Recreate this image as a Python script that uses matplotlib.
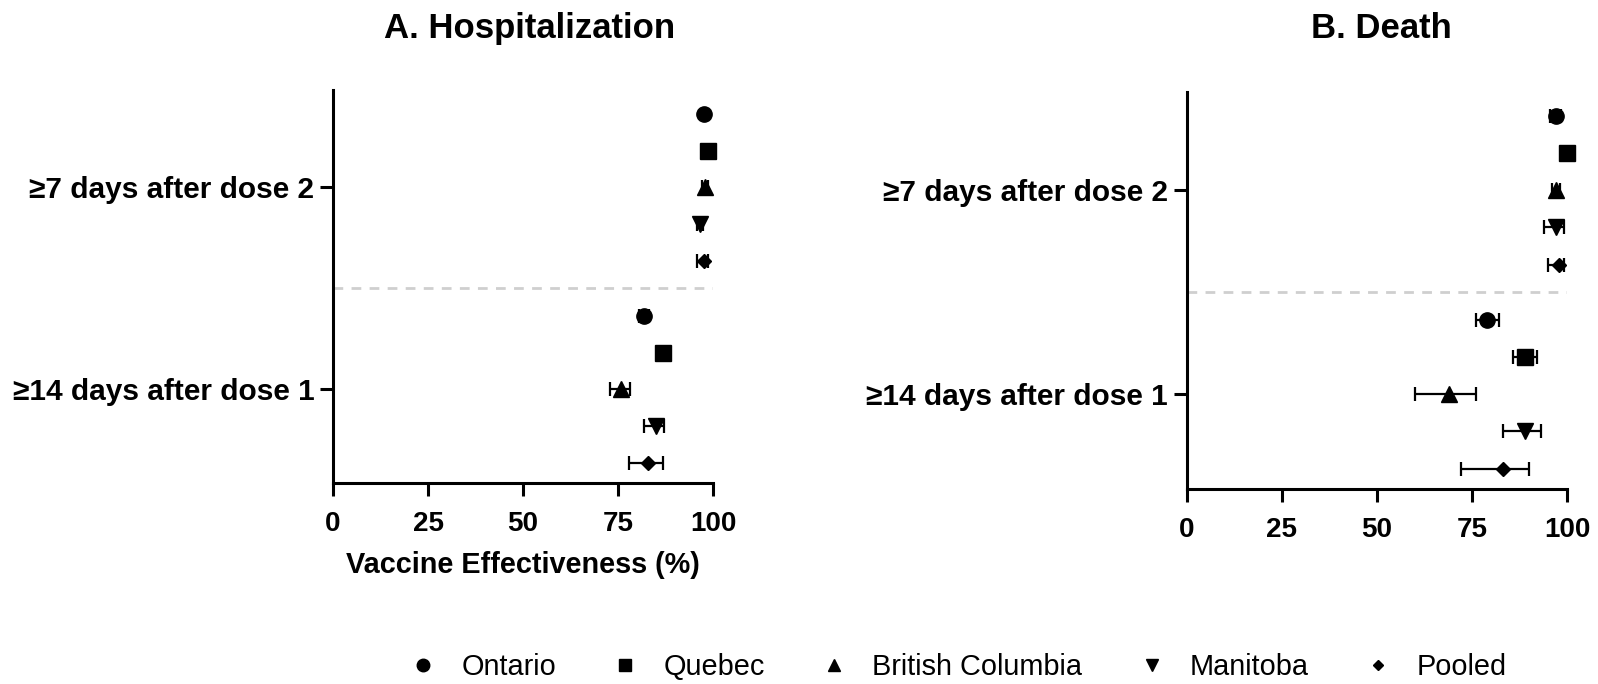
import matplotlib
matplotlib.use("Agg")
import matplotlib.pyplot as plt
from matplotlib.lines import Line2D

plt.rcParams["font.family"] = ["Liberation Sans", "DejaVu Sans"]

provinces = ["Ontario", "Quebec", "British Columbia", "Manitoba", "Pooled"]
markers = ["o", "s", "^", "v", "D"]
groups = ["\u226514 days after dose 1", "\u22657 days after dose 2"]

# Hospitalization VE (%) with 95% CI, order follows `provinces`
hosp_d2 = [97.6, 98.7, 97.9, 96.7, 97.5]
hosp_d2_lo = [97.0, 98.2, 97.0, 95.9, 95.8]
hosp_d2_hi = [98.2, 99.1, 98.6, 97.4, 98.6]
hosp_d1 = [81.9, 86.9, 75.8, 85.0, 82.8]
hosp_d1_lo = [80.6, 85.8, 72.9, 81.8, 77.9]
hosp_d1_hi = [83.2, 88.0, 78.1, 87.2, 86.9]

# Death VE (%) with 95% CI
death_d2 = [97.1, 100.0, 97.0, 97.0, 98.0]
death_d2_lo = [95.5, 100.0, 96.0, 94.0, 95.0]
death_d2_hi = [98.3, 100.0, 98.2, 99.2, 99.2]
death_d1 = [79.0, 89.0, 69.0, 89.0, 83.2]
death_d1_lo = [76.0, 85.9, 60.0, 83.1, 72.1]
death_d1_hi = [82.1, 92.1, 76.0, 93.2, 90.0]

group_pos = [0.0, 5.5]
row_offset = [2, 1, 0, -1, -2]

fig = plt.figure(figsize=(15.98, 6.84), dpi=100)
axA = fig.add_axes([0.2084, 0.2939, 0.2378, 0.5745])
axB = fig.add_axes([0.7428, 0.2851, 0.2378, 0.5804])


def draw(ax, d1, d1lo, d1hi, d2, d2lo, d2hi):
    for gi, (v, lo, hi) in enumerate([(d1, d1lo, d1hi), (d2, d2lo, d2hi)]):
        for i in range(len(provinces)):
            y = group_pos[gi] + row_offset[i]
            ax.errorbar([v[i]], [y], xerr=[[v[i] - lo[i]], [hi[i] - v[i]]],
                        fmt=markers[i], color="black", ms=7.6 if markers[i] == "D" else 11,
                        elinewidth=1.6, capsize=5, capthick=1.6, clip_on=False, zorder=3)
    ax.plot([0, 100], [2.75, 2.75], ls=(0, (3.5, 3)), color="#cfcfcf", lw=2, zorder=1)
    ax.set_xlim(0, 100)
    ax.set_ylim(-2.55, 8.15)
    ax.set_xticks([0, 25, 50, 75, 100])
    ax.set_yticks(group_pos, groups)
    for s in ["top", "right"]:
        ax.spines[s].set_visible(False)
    for s in ["left", "bottom"]:
        ax.spines[s].set_linewidth(2.2)
    ax.tick_params(width=2.2, length=9.5)
    ax.tick_params(axis="x", pad=11, labelsize=20)
    ax.tick_params(axis="y", pad=4, labelsize=21.5)
    for lab in ax.get_xticklabels() + ax.get_yticklabels():
        lab.set_fontweight("bold")


draw(axA, hosp_d1, hosp_d1_lo, hosp_d1_hi, hosp_d2, hosp_d2_lo, hosp_d2_hi)
draw(axB, death_d1, death_d1_lo, death_d1_hi, death_d2, death_d2_lo, death_d2_hi)

axA.set_xlabel("Vaccine Effectiveness (%)", fontsize=20.8, fontweight="bold", labelpad=10)

fig.text(530 / 1598, 1 - 38 / 684, "A. Hospitalization", ha="center", va="baseline",
         fontsize=25, fontweight="bold")
fig.text(1381 / 1598, 1 - 38 / 684, "B. Death", ha="center", va="baseline",
         fontsize=25, fontweight="bold")

handles = [Line2D([], [], ls="none", marker=m, color="black",
                  ms=5.5 if m == "D" else 9) for m in markers]
fig.legend(handles, provinces, loc="center", bbox_to_anchor=(959 / 1598, 1 - 667 / 684),
           ncol=5, frameon=False, fontsize=20.8, handlelength=0.8, handletextpad=0.92,
           columnspacing=2.0, borderpad=0, borderaxespad=0)

fig.savefig("out.png", dpi=100)
